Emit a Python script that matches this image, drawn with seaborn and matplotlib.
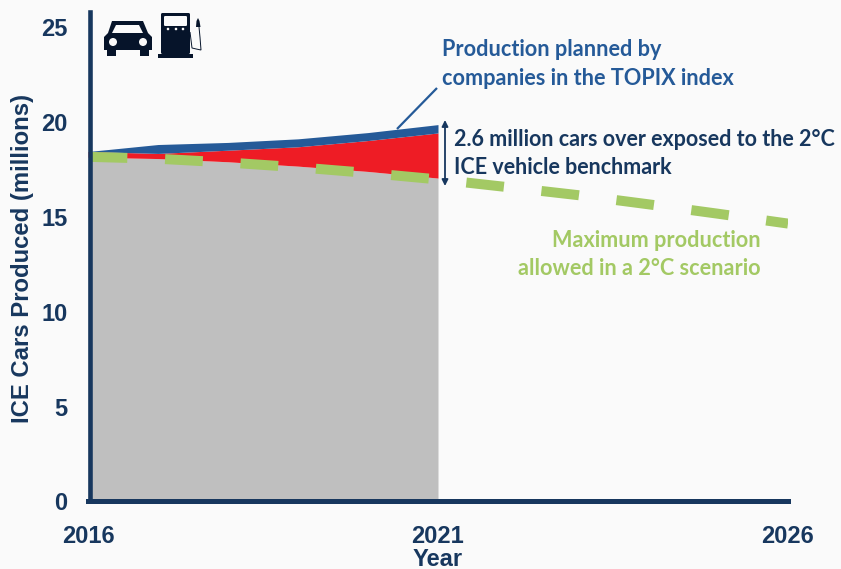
import matplotlib
matplotlib.use('Agg')
import matplotlib.pyplot as plt
import matplotlib.transforms as mtrans
from matplotlib.patches import Circle, FancyBboxPatch, Polygon, PathPatch, Rectangle
from matplotlib.path import Path
import seaborn as sns
import pandas as pd

# Данные
years = [2016, 2017, 2018, 2019, 2020, 2021]
planned = [18.3, 18.67, 18.78, 18.97, 19.3, 19.72]
red_top = [18.3, 18.2, 18.37, 18.55, 18.88, 19.28]
gray_top = [18.0, 17.93, 17.76, 17.53, 17.25, 16.9]
scenario_years = [2016, 2017, 2018, 2019, 2020, 2021, 2022, 2023, 2024, 2025, 2026]
scenario = [18.02, 17.92, 17.72, 17.47, 17.17, 16.83, 16.42, 16.0, 15.52, 15.02, 14.5]
y_ticks = [0, 5, 10, 15, 20, 25]
x_ticks = [2016, 2021, 2026]

NAVY = '#17375E'
BLUE = '#255A98'
RED = '#EE1C25'
GRAY = '#BFBFBF'
GREEN = '#A3C964'
ICON = '#06142A'
BG = '#FAFAFA'
W, H = 841, 569

sns.set_theme(style='white')
plt.rcParams['font.family'] = ['Liberation Sans', 'DejaVu Sans']
plt.rcParams['lines.scale_dashes'] = False

fig = plt.figure(figsize=(W / 100, H / 100), dpi=100, facecolor=BG)
# Оси считаем в пикселях исходной картинки
left, right, bottom, top = 88, 788, 498.5, 12
ax = fig.add_axes([left / W, 1 - bottom / H, (right - left) / W, (bottom - top) / H])
ax.set_facecolor('none')

# Слои кладём друг на друга, чтобы не было цветной кромки справа
ax.fill_between(years, 0, gray_top, color=GRAY, lw=0)
ax.fill_between(years, gray_top, red_top, color=RED, lw=0)
ax.fill_between(years, red_top, planned, color=BLUE, lw=0)

df = pd.DataFrame({'year': scenario_years, 'value': scenario})
sns.lineplot(data=df, x='year', y='value', ax=ax, color=GREEN, lw=7.2, zorder=3)
line = ax.get_lines()[-1]
line.set_linestyle((53.28, (27.2, 27.2)))
line.set_dash_capstyle('butt')

ax.set_xlim(2016, 2026)
ax.set_ylim(0, (bottom - top) / 18.96)
ax.set_xticks(x_ticks)
ax.set_yticks(y_ticks)
ax.set_xlabel('')
ax.set_ylabel('')

sns.despine(ax=ax)
ax.spines['left'].set_linewidth(3.3)
ax.spines['bottom'].set_linewidth(3.6)
ax.spines['left'].set_color(NAVY)
ax.spines['bottom'].set_color(NAVY)
ax.spines['left'].set_position(('outward', -1.08))
ax.spines['bottom'].set_position(('outward', 1.8))
ax.spines['left'].set_zorder(5)
ax.tick_params(length=0, labelsize=17, labelcolor=NAVY)
for lab in ax.get_xticklabels() + ax.get_yticklabels():
    lab.set_fontweight('bold')
    lab.set_color(NAVY)
ax.tick_params(axis='x', pad=17)
ax.tick_params(axis='y', pad=16)
for lab in ax.get_yticklabels():
    lab.set_transform(lab.get_transform() + mtrans.ScaledTranslation(0, -3 / 100, fig.dpi_scale_trans))

# Верхний слой в пикселях: подписи и значки
ov = fig.add_axes([0, 0, 1, 1], zorder=10)
ov.set_xlim(0, W)
ov.set_ylim(H, 0)
ov.axis('off')

ov.text(23, 258, 'ICE Cars Produced (millions)', rotation=90, ha='center', va='center',
        fontsize=17.2, fontweight='bold', color=NAVY)
ov.text(438, 559, 'Year', ha='center', va='center', fontsize=17, fontweight='bold', color=NAVY)

note = dict(family=['Lato', 'DejaVu Sans'], fontweight='bold', va='center')
ov.text(442, 49, 'Production planned by', fontsize=15.6, color=BLUE, **note)
ov.text(442, 78, 'companies in the TOPIX index', fontsize=15.6, color=BLUE, **note)
ov.text(454, 139, '2.6 million cars over exposed to the 2°C', fontsize=15.5, color=NAVY, **note)
ov.text(454, 167, 'ICE vehicle benchmark', fontsize=15.5, color=NAVY, **note)
ov.text(761, 240, 'Maximum production', fontsize=15.6, color=GREEN, ha='right', **note)
ov.text(761, 268, 'allowed in a 2°C scenario', fontsize=15.6, color=GREEN, ha='right', **note)

ov.plot([397, 437], [129, 88], color=BLUE, lw=1.6, solid_capstyle='butt')
ov.annotate('', xy=(445, 120), xytext=(445, 186),
            arrowprops=dict(arrowstyle='<|-|>', color=NAVY, lw=1.3, mutation_scale=9, shrinkA=0, shrinkB=0))

# Машина
ov.add_patch(Polygon([(112, 21), (143, 21), (148, 33), (152, 37), (152, 50), (149, 50), (149, 56), (140, 56),
                      (140, 50), (116, 50), (116, 56), (107, 56), (107, 50), (104, 50), (104, 37), (108, 33)],
                     closed=True, fc=ICON, ec='none'))
ov.add_patch(Polygon([(116, 25), (139, 25), (143, 33), (112, 33)], closed=True, fc=BG, ec='none'))
ov.add_patch(Circle((113, 42), 4, fc=BG, ec='none'))
ov.add_patch(Circle((143, 42), 4, fc=BG, ec='none'))

# Колонка
ov.add_patch(FancyBboxPatch((161, 13), 29, 41, boxstyle='round,pad=0,rounding_size=1.5', fc=ICON, ec='none'))
ov.add_patch(Rectangle((158, 54), 35, 4, fc=ICON, ec='none'))
ov.add_patch(FancyBboxPatch((164, 16), 23, 10, boxstyle='round,pad=0,rounding_size=1.2', fc=BG, ec='none'))
for cx in (168, 176, 183):
    ov.add_patch(Circle((cx, 29), 1.3, fc=BG, ec='none'))
hose = Path([(190, 32), (191, 40), (192, 48), (196, 49), (201, 50), (200, 36), (199, 27)],
            [Path.MOVETO, Path.CURVE3, Path.CURVE3, Path.CURVE3, Path.CURVE3, Path.CURVE3, Path.CURVE3])
ov.add_patch(PathPatch(hose, fc='none', ec=ICON, lw=0.7))
ov.add_patch(Polygon([(196, 27), (196.5, 21), (198, 18), (199.5, 21), (200.5, 27)], closed=True, fc=ICON, ec='none'))

fig.savefig('out.png', dpi=100, facecolor=BG)
